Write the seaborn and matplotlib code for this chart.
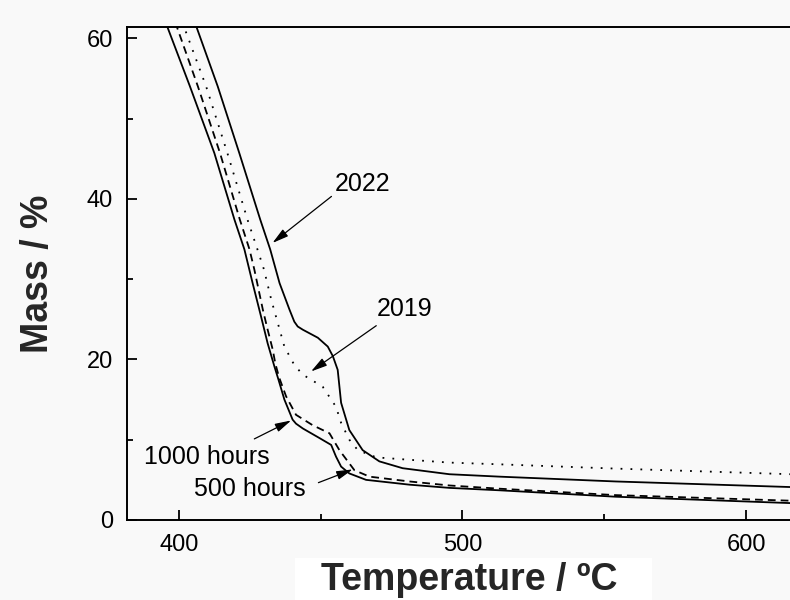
import matplotlib
matplotlib.use("Agg")
import matplotlib.pyplot as plt
from matplotlib.patches import Rectangle
from matplotlib.ticker import MultipleLocator
import seaborn as sns

# Thermogravimetric curves: mass (%) vs temperature (degC)
temp_2022 = [405.6, 413.7, 421.3, 428.7, 432.2, 435.5, 439.0, 440.7, 441.9, 443.7,
             449.0, 452.5, 454.3, 456.0, 457.2, 460.1, 464.8, 470.7, 478.9, 495.4,
             513.0, 554.0, 616.0]
mass_2022 = [62.0, 54.0, 45.7, 37.4, 33.7, 29.5, 26.2, 24.7, 24.1, 23.7,
             22.7, 21.6, 20.4, 18.7, 14.6, 11.2, 8.7, 7.3, 6.45, 5.7,
             5.4, 4.8, 4.1]

temp_2019 = [401.2, 409.6, 417.1, 424.2, 427.7, 430.0, 432.6, 434.9, 437.2, 440.7,
             443.7, 450.7, 455.4, 457.2, 460.1, 463.1, 469.6, 481.3, 495.4, 511.9,
             554.2, 616.0]
mass_2019 = [62.0, 54.0, 45.7, 37.4, 33.7, 31.2, 27.4, 24.5, 21.6, 19.3,
             18.1, 16.6, 14.1, 12.1, 10.0, 8.7, 7.8, 7.5, 7.15, 6.95,
             6.4, 5.7]

temp_500h = [398.7, 406.7, 414.5, 421.5, 424.9, 426.6, 429.6, 431.3, 433.1, 434.0,
             435.3, 437.8, 441.3, 447.2, 453.1, 456.6, 461.9, 467.2, 481.3, 495.4,
             513.0, 554.0, 616.0]
mass_500h = [62.0, 54.0, 45.7, 37.4, 33.7, 31.2, 26.2, 23.7, 21.2, 19.5,
             17.8, 15.4, 13.1, 11.8, 10.8, 8.7, 6.2, 5.4, 4.8, 4.3,
             3.9, 3.1, 2.4]

temp_1000h = [395.3, 403.9, 412.5, 419.6, 423.1, 426.0, 429.0, 431.3, 433.7, 435.1,
              437.2, 440.1, 441.3, 443.7, 449.6, 453.7, 455.4, 457.2, 460.1, 466.0,
              481.3, 495.4, 513.0, 554.0, 616.0]
mass_1000h = [62.0, 54.0, 45.7, 37.4, 33.7, 29.5, 25.3, 22.0, 19.1, 17.5,
              15.0, 12.5, 12.0, 11.4, 10.2, 9.35, 7.9, 6.65, 5.8, 5.0,
              4.4, 4.0, 3.7, 2.9, 2.1]

x_major = [400, 500, 600]
y_major = [0, 20, 40, 60]

sns.set_theme(style="ticks")
bg = "#f9f9f9"
plt.rcParams["font.family"] = ["Liberation Sans", "DejaVu Sans"]
plt.rcParams["figure.facecolor"] = bg
plt.rcParams["axes.facecolor"] = bg

fig = plt.figure(figsize=(7.9, 6.0), dpi=100)
ax = fig.add_axes([127 / 790, 80 / 600, 663 / 790, 493 / 600])

lw = 1.3
line_kw = dict(ax=ax, color="black", lw=lw, estimator=None, sort=False)
sns.lineplot(x=temp_1000h, y=mass_1000h, **line_kw)
sns.lineplot(x=temp_500h, y=mass_500h, linestyle=(0, (4.3, 2.8)), **line_kw)
sns.lineplot(x=temp_2019, y=mass_2019, linestyle=(0, (1.0, 4.5)), **line_kw)
sns.lineplot(x=temp_2022, y=mass_2022, **line_kw)
for line in ax.lines:
    line.set_solid_joinstyle("round")
    line.set_dash_joinstyle("round")

ax.set_xlim(381.7, 615.5)
ax.set_ylim(0, 61.4)
ax.set_xticks(x_major)
ax.set_yticks(y_major)
ax.xaxis.set_minor_locator(MultipleLocator(50))
ax.yaxis.set_minor_locator(MultipleLocator(10))
ax.tick_params(which="both", direction="in", top=False, right=False,
               width=1.3, color="black", labelsize=17, labelcolor="black")
ax.tick_params(which="major", length=7.5)
ax.tick_params(which="minor", length=4)
ax.tick_params(axis="y", pad=10)
ax.tick_params(axis="x", pad=10)

for side in ("left", "bottom", "top"):
    ax.spines[side].set_linewidth(1.4)
    ax.spines[side].set_color("black")
ax.spines["right"].set_visible(False)

ax.set_xlabel("Temperature / ºC", fontsize=27, fontweight="bold", va="baseline")
ax.xaxis.set_label_coords(0.516, -0.142)
ax.set_ylabel("Mass / %", fontsize=27, fontweight="bold", va="baseline")
ax.yaxis.set_label_coords(-0.119, 0.5)

# white panel behind the x-axis title
fig.add_artist(Rectangle((295 / 790, 0), 357 / 790, 42 / 600,
                         transform=fig.transFigure, fc="white", ec="none",
                         zorder=-1))

arrow = dict(arrowstyle="-|>,head_length=0.75,head_width=0.2", lw=0.9,
             color="black", mutation_scale=13, shrinkA=0, shrinkB=0)
label_kw = dict(fontsize=18, color="black", ha="left", va="center")

ax.text(455.0, 41.8, "2022", **label_kw)
ax.annotate("", xy=(433.0, 34.5), xytext=(453.8, 40.3), arrowprops=arrow)

ax.text(469.6, 26.3, "2019", **label_kw)
ax.annotate("", xy=(446.6, 18.5), xytext=(469.6, 24.2), arrowprops=arrow)

ax.text(387.8, 7.9, "1000 hours", **label_kw)
ax.annotate("", xy=(439.6, 12.4), xytext=(426.6, 10.1), arrowprops=arrow)

ax.text(405.5, 3.87, "500 hours", **label_kw)
ax.annotate("", xy=(461.3, 6.3), xytext=(449.2, 4.65), arrowprops=arrow)

fig.savefig("out.png", dpi=100, facecolor=bg)
